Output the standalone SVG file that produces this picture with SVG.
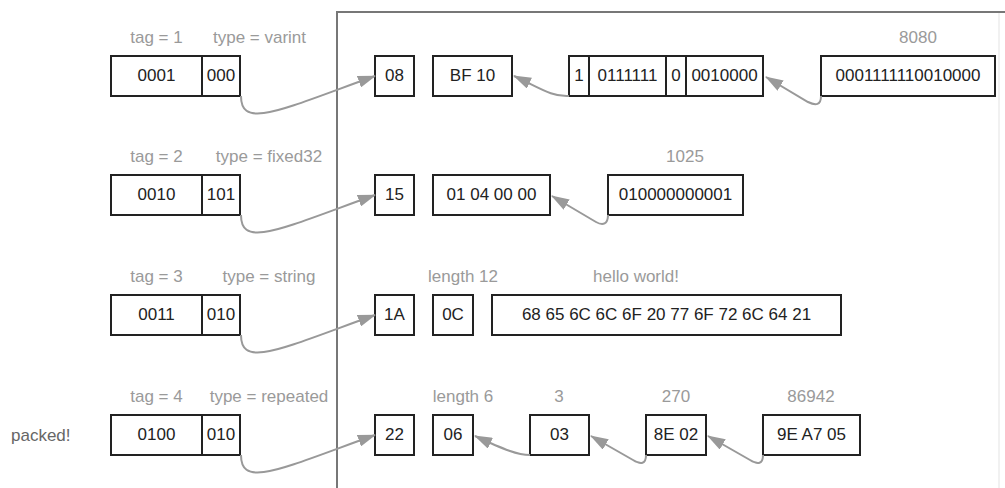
<svg xmlns="http://www.w3.org/2000/svg" width="1005" height="488" viewBox="0 0 1005 488">
<style>
.box{fill:#fff;stroke:#222;stroke-width:2}
.div{stroke:#222;stroke-width:2}
.t{font-family:"Liberation Sans",Arial,sans-serif;font-size:17px;fill:#222;text-anchor:middle}
.lbl{font-family:"Liberation Sans",Arial,sans-serif;font-size:17px;fill:#9a9a9a;text-anchor:middle}
.note{font-family:"Liberation Sans",Arial,sans-serif;font-size:17px;fill:#666}
.con{fill:none;stroke:#999;stroke-width:2;marker-end:url(#ah)}
.frame{fill:none;stroke:#777;stroke-width:2}
</style>
<defs>
<marker id="ah" viewBox="0 0 18 12" refX="17" refY="6" markerWidth="18" markerHeight="12" markerUnits="userSpaceOnUse" orient="auto">
<path d="M0,0 L18,6 L0,12 z" fill="#999"/>
</marker>
</defs>
<rect width="1005" height="488" fill="#fff"/>
<g id="frame">
<path class="frame" d="M337,488 L337,12 L1005,12"/>
<path d="M999,13 L999,488" stroke="#ececec" stroke-width="1.5" fill="none"/>
</g>
<text class="note" x="11" y="441">packed!</text>
<!-- left keys -->
<g id="key1">
<text class="lbl" x="156.5" y="43">tag = 1</text>
<text class="lbl" x="259.5" y="43">type = varint</text>
<rect class="box" x="111" y="56" width="129" height="40"/>
<line class="div" x1="202" y1="56" x2="202" y2="96"/>
<text class="t" x="156.5" y="81">0001</text>
<text class="t" x="221" y="81">000</text>
</g>
<g id="key2">
<text class="lbl" x="156.5" y="162">tag = 2</text>
<text class="lbl" x="269" y="162">type = fixed32</text>
<rect class="box" x="111" y="175" width="129" height="40"/>
<line class="div" x1="202" y1="175" x2="202" y2="215"/>
<text class="t" x="156.5" y="200">0010</text>
<text class="t" x="221" y="200">101</text>
</g>
<g id="key3">
<text class="lbl" x="156.5" y="282">tag = 3</text>
<text class="lbl" x="269" y="282">type = string</text>
<rect class="box" x="111" y="295" width="129" height="40"/>
<line class="div" x1="202" y1="295" x2="202" y2="335"/>
<text class="t" x="156.5" y="320">0011</text>
<text class="t" x="221" y="320">010</text>
</g>
<g id="key4">
<text class="lbl" x="156.5" y="402">tag = 4</text>
<text class="lbl" x="269" y="402">type = repeated</text>
<rect class="box" x="111" y="415" width="129" height="40"/>
<line class="div" x1="202" y1="415" x2="202" y2="455"/>
<text class="t" x="156.5" y="440">0100</text>
<text class="t" x="221" y="440">010</text>
</g>
<!-- row 1 -->
<g id="b08"><rect class="box" x="375" y="56" width="39" height="40"/><text class="t" x="394.5" y="81">08</text></g>
<g id="bBF10"><rect class="box" x="433" y="56" width="79" height="40"/><text class="t" x="472.5" y="81">BF 10</text></g>
<g id="bits">
<rect class="box" x="569" y="56" width="194" height="40"/>
<line class="div" x1="589" y1="56" x2="589" y2="96"/>
<line class="div" x1="666" y1="56" x2="666" y2="96"/>
<line class="div" x1="686" y1="56" x2="686" y2="96"/>
<text class="t" x="579" y="81">1</text>
<text class="t" x="627.5" y="81">0111111</text>
<text class="t" x="676" y="81">0</text>
<text class="t" x="724.5" y="81">0010000</text>
</g>
<g id="b8080">
<text class="lbl" x="918" y="43">8080</text>
<rect class="box" x="821" y="56" width="174" height="40"/><text class="t" x="908" y="81">0001111110010000</text>
</g>
<!-- row 2 -->
<g id="b15"><rect class="box" x="375" y="175" width="39" height="40"/><text class="t" x="394.5" y="200">15</text></g>
<g id="b01040000"><rect class="box" x="433" y="175" width="117" height="40"/><text class="t" x="491.5" y="200">01 04 00 00</text></g>
<g id="b1025">
<text class="lbl" x="685" y="162">1025</text>
<rect class="box" x="608" y="175" width="135" height="40"/><text class="t" x="675.5" y="200">010000000001</text>
</g>
<!-- row 3 -->
<g id="b1A"><rect class="box" x="375" y="295" width="39" height="40"/><text class="t" x="394.5" y="320">1A</text></g>
<g id="b0C">
<text class="lbl" x="463" y="282">length 12</text>
<rect class="box" x="433" y="295" width="40" height="40"/><text class="t" x="453" y="320">0C</text>
</g>
<g id="bhello">
<text class="lbl" x="636" y="282">hello world!</text>
<rect class="box" x="492" y="295" width="349" height="40"/><text class="t" x="666.5" y="320">68 65 6C 6C 6F 20 77 6F 72 6C 64 21</text>
</g>
<!-- row 4 -->
<g id="b22"><rect class="box" x="375" y="415" width="39" height="40"/><text class="t" x="394.5" y="440">22</text></g>
<g id="b06">
<text class="lbl" x="463" y="402">length 6</text>
<rect class="box" x="433" y="415" width="40" height="40"/><text class="t" x="453" y="440">06</text>
</g>
<g id="b03">
<text class="lbl" x="559" y="402">3</text>
<rect class="box" x="530" y="415" width="59" height="40"/><text class="t" x="559.5" y="440">03</text>
</g>
<g id="b8E02">
<text class="lbl" x="676" y="402">270</text>
<rect class="box" x="646" y="415" width="60" height="40"/><text class="t" x="676" y="440">8E 02</text>
</g>
<g id="b9EA705">
<text class="lbl" x="811" y="402">86942</text>
<rect class="box" x="763" y="415" width="97" height="40"/><text class="t" x="811.5" y="440">9E A7 05</text>
</g>
<g id="connectors">
<path class="con" d="M241,96 C241,130 280,110 375,76"/>
<path class="con" d="M241,215 C241,249 280,229 375,195"/>
<path class="con" d="M241,335 C241,369 280,349 375,315"/>
<path class="con" d="M241,455 C241,489 280,469 375,435"/>
<path class="con" d="M569,96 C552,97 540,88 514,76"/>
<path class="con" d="M821,96 C821,105 816,106 808,102 L766,77"/>
<path class="con" d="M608,215 C608,224 603,226 596,222 L552,196"/>
<path class="con" d="M530,455 C518,455 505,450 475,436"/>
<path class="con" d="M646,455 C646,464 641,465 633,460 L591,436"/>
<path class="con" d="M763,455 C763,464 758,465 750,460 L708,436"/>
</g>
</svg>
